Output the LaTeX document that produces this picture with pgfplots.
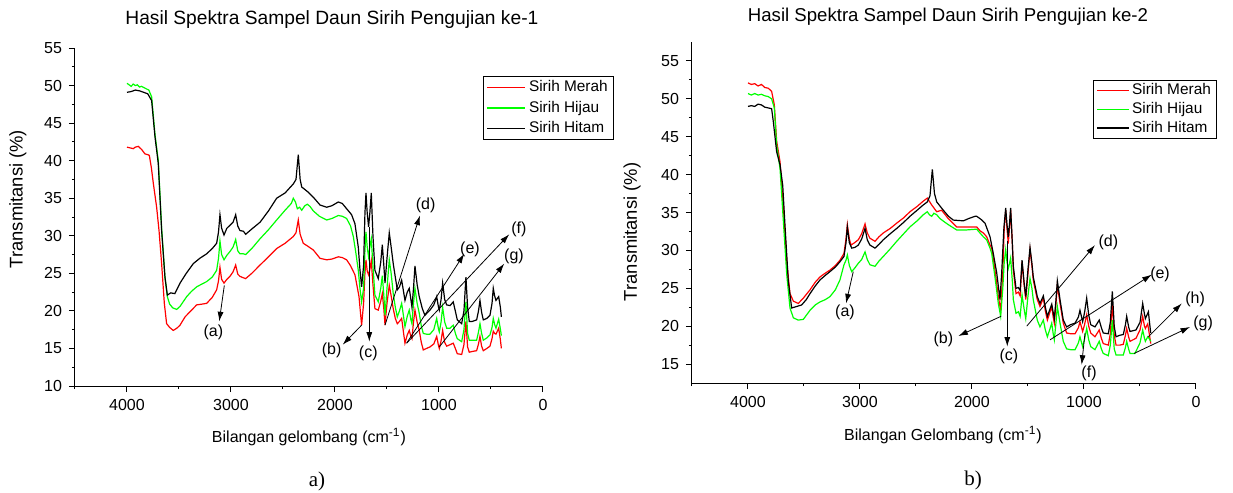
\documentclass[border=0pt]{standalone}
\usepackage{pgfplots}
\pgfplotsset{compat=1.18}
\usepackage{pgfplotstable}
\usepackage{fontspec}
\setmainfont{Liberation Sans}
\newfontfamily\timesfont{Liberation Serif}
\usetikzlibrary{arrows.meta}

% ---------- Pengujian ke-1 ----------
\pgfplotstableread{
x y
4000 41.8
3970 41.7
3940 41.6
3920 41.8
3891 41.9
3860 41.5
3827 40.9
3800 40.8
3785 40.7
3765 39.0
3747 37.0
3715 33.8
3692 30.7
3667 26.3
3641 21.0
3619 18.3
3590 17.8
3555 17.4
3520 17.7
3490 18.1
3442 19.2
3400 19.8
3330 20.8
3280 20.9
3234 21.0
3180 21.8
3138 22.8
3120 24.0
3106 25.8
3090 24.2
3067 23.7
3040 24.2
3010 24.6
2980 25.2
2955 26.1
2935 24.9
2914 24.6
2880 24.4
2859 24.3
2800 25.0
2721 26.1
2640 27.2
2561 28.3
2480 29.0
2401 29.9
2375 30.4
2353 32.1
2335 30.2
2305 29.0
2260 28.6
2208 28.1
2144 27.0
2080 26.8
2030 26.9
1968 27.2
1930 27.1
1888 26.8
1850 26.0
1808 24.8
1769 21.9
1744 18.1
1725 21.0
1712 25.0
1702 26.8
1690 25.3
1677 24.8
1665 25.5
1651 26.7
1635 23.5
1616 20.3
1584 20.1
1560 21.3
1545 22.3
1530 20.2
1519 18.1
1500 21.0
1478 23.4
1460 22.0
1440 20.3
1420 19.0
1401 18.3
1380 18.6
1359 19.0
1340 17.0
1327 15.7
1305 16.8
1286 17.4
1270 16.6
1260 16.3
1245 18.5
1231 20.1
1210 18.5
1190 17.4
1170 15.8
1151 14.8
1120 15.0
1087 15.2
1050 15.6
1022 16.6
1005 15.4
997 15.0
980 16.0
965 17.4
945 15.8
926 15.3
894 15.5
863 15.7
840 14.9
824 14.3
782 14.2
760 15.5
741 18.6
725 15.2
709 14.5
680 14.6
638 14.7
620 15.6
606 16.6
590 15.3
574 14.7
540 15.0
510 15.3
490 16.3
478 17.3
465 17.0
452 16.9
426 17.7
410 16.2
400 15.0
}\merahA

\pgfplotstableread{
x y
4000 50.3
3980 50.1
3960 49.9
3940 50.2
3920 50.0
3900 50.1
3880 49.8
3860 49.9
3820 49.6
3790 49.4
3763 48.5
3731 43.5
3699 40.0
3667 31.0
3635 24.5
3612 21.9
3590 20.9
3560 20.4
3522 20.2
3490 20.6
3426 21.9
3380 22.6
3330 23.2
3290 23.5
3234 23.9
3180 24.5
3138 25.4
3120 27.0
3106 29.3
3090 27.5
3067 26.8
3040 27.4
3010 27.9
2980 28.5
2955 29.5
2935 28.0
2914 27.6
2880 27.6
2859 27.5
2800 28.3
2721 29.6
2640 30.8
2561 32.1
2480 33.4
2420 34.3
2401 35.0
2380 34.5
2362 33.6
2340 33.8
2320 33.4
2290 34.0
2266 34.2
2240 33.9
2208 33.3
2150 32.6
2080 32.1
2030 32.3
1968 32.7
1930 32.6
1888 32.3
1850 31.3
1824 29.9
1800 27.8
1776 25.4
1760 23.0
1744 21.2
1725 23.0
1712 28.0
1702 30.5
1690 28.5
1677 27.2
1665 28.5
1651 29.6
1635 26.0
1616 22.1
1584 21.2
1560 23.0
1545 24.7
1530 22.0
1519 19.4
1500 23.0
1478 26.8
1460 25.0
1440 22.3
1420 20.5
1401 19.2
1380 20.0
1359 21.0
1340 19.2
1327 17.9
1305 19.3
1286 20.1
1270 18.8
1260 18.3
1245 21.0
1231 23.0
1210 21.0
1190 19.7
1170 18.0
1151 17.0
1120 16.9
1087 16.9
1050 17.5
1022 19.0
1005 17.6
997 17.2
980 18.5
965 20.5
945 18.5
926 17.7
894 17.7
863 18.1
840 16.9
824 16.3
782 15.9
760 17.5
741 21.2
725 17.0
709 16.1
680 16.1
638 16.1
620 17.2
606 18.3
590 17.0
574 16.1
540 16.4
510 16.8
490 17.8
478 19.0
465 18.2
452 17.7
426 18.9
410 17.6
400 16.7
}\hijauA

\pgfplotstableread{
x y
4000 49.1
3960 49.2
3920 49.4
3880 49.3
3840 49.1
3800 48.9
3763 48.0
3731 43.2
3699 39.6
3667 30.7
3635 24.5
3612 22.1
3580 22.4
3540 22.3
3490 23.7
3430 25.0
3362 26.3
3300 27.0
3234 27.6
3180 28.3
3138 29.0
3120 30.5
3106 32.8
3090 31.0
3067 30.1
3040 31.0
3010 31.4
2980 31.8
2955 32.8
2935 31.3
2914 30.7
2880 30.6
2859 30.2
2800 30.9
2721 31.8
2640 33.3
2561 35.0
2480 35.7
2401 36.9
2375 37.5
2353 40.8
2335 37.5
2320 36.5
2257 35.8
2200 35.0
2144 34.1
2080 33.8
2030 34.0
1968 34.5
1930 34.3
1888 33.6
1840 32.8
1808 31.6
1776 28.5
1760 25.5
1744 23.2
1725 26.0
1712 33.0
1702 35.7
1690 33.0
1677 31.2
1665 33.0
1651 35.7
1635 30.0
1616 25.4
1584 24.3
1560 26.5
1545 28.8
1530 26.0
1519 23.7
1500 27.0
1478 30.4
1460 28.5
1440 26.3
1420 24.5
1401 22.8
1380 23.2
1359 24.1
1340 22.5
1327 21.4
1305 22.5
1286 23.0
1270 21.5
1260 20.5
1245 23.0
1231 26.0
1210 23.5
1190 21.9
1160 20.3
1135 19.4
1110 19.8
1087 20.1
1050 20.8
1022 21.9
1005 20.5
997 20.1
980 21.5
965 23.7
945 21.5
926 20.8
894 20.7
863 21.2
840 19.8
824 18.8
782 18.3
760 20.0
741 24.5
725 20.5
709 18.6
680 18.6
638 18.8
620 20.0
606 21.4
590 19.8
574 18.8
540 19.0
510 19.4
490 21.0
478 23.0
465 22.0
452 21.4
426 21.9
410 20.5
400 19.2
}\hitamA

% ---------- Pengujian ke-2 ----------
\pgfplotstableread{
x y
4000 52.1
3970 51.9
3940 52.0
3910 51.7
3880 51.9
3850 51.5
3819 51.4
3789 51.0
3765 49.2
3744 44.4
3714 41.7
3684 35.6
3654 28.5
3625 24.3
3595 23.3
3551 23.0
3506 23.7
3446 24.8
3400 25.8
3357 26.5
3310 27.0
3268 27.4
3220 28.0
3179 28.7
3143 29.6
3125 31.5
3113 33.4
3095 31.5
3080 30.7
3050 31.0
3015 31.4
2985 32.2
2955 33.5
2935 32.3
2911 31.6
2866 31.2
2830 31.8
2792 32.3
2730 32.9
2672 33.6
2610 34.3
2554 35.1
2490 35.8
2435 36.5
2399 36.9
2360 36.0
2315 35.1
2271 35.3
2212 34.2
2137 33.1
2048 33.1
1958 33.1
1929 32.6
1899 32.3
1869 31.8
1839 30.7
1824 30.3
1795 27.4
1765 23.9
1744 22.1
1725 27.0
1712 33.0
1699 35.3
1688 33.0
1676 30.9
1665 33.0
1655 35.3
1640 31.0
1631 27.4
1607 24.3
1586 24.5
1570 24.0
1553 28.5
1535 25.5
1520 23.5
1500 27.0
1482 30.1
1465 28.0
1453 26.1
1417 23.5
1393 22.6
1363 23.7
1345 22.0
1327 20.8
1305 21.8
1288 22.6
1275 21.2
1265 20.4
1250 23.0
1238 25.4
1214 23.0
1185 20.4
1155 19.1
1120 19.0
1080 19.0
1050 19.8
1036 20.6
1012 19.3
995 20.2
976 21.5
958 20.0
940 19.1
902 18.6
864 19.5
845 18.4
828 17.7
783 17.5
765 19.0
747 23.0
730 18.8
714 17.5
680 17.5
649 17.6
630 18.8
619 19.7
600 18.5
589 18.0
536 18.4
500 19.5
476 21.3
460 20.0
452 19.7
431 20.3
415 18.8
404 17.7
}\merahB

\pgfplotstableread{
x y
4000 50.7
3970 50.5
3940 50.7
3910 50.5
3880 50.6
3850 50.4
3819 50.3
3789 50.0
3765 48.8
3744 43.9
3714 40.8
3684 33.8
3654 26.8
3625 22.4
3595 21.1
3551 20.8
3506 20.9
3446 22.1
3400 22.8
3357 23.2
3310 23.5
3268 23.9
3220 24.8
3179 26.1
3143 28.1
3125 28.7
3113 29.4
3095 28.0
3074 27.2
3045 27.7
3015 28.3
2985 28.8
2955 29.8
2935 28.8
2911 28.1
2866 27.9
2830 28.6
2792 29.2
2730 30.2
2672 31.2
2610 32.2
2554 33.1
2490 33.9
2435 34.7
2399 35.1
2380 34.7
2360 34.5
2340 34.9
2315 34.7
2286 34.2
2250 33.8
2212 33.4
2137 32.7
2048 32.7
1958 32.8
1929 32.3
1899 31.8
1869 31.4
1839 30.3
1824 29.6
1795 26.5
1765 23.0
1744 21.3
1725 25.0
1712 28.5
1699 30.1
1688 28.5
1676 27.6
1665 28.3
1655 29.0
1640 26.0
1631 23.5
1607 21.7
1586 21.9
1570 21.3
1553 24.1
1535 22.3
1520 21.0
1500 24.0
1482 26.3
1465 25.0
1453 23.5
1417 20.8
1393 19.9
1363 20.8
1345 19.5
1327 18.6
1305 19.6
1288 20.4
1275 19.0
1265 18.2
1250 20.5
1238 22.6
1214 20.4
1185 18.0
1155 17.0
1120 16.9
1080 16.9
1050 17.8
1036 18.6
1012 17.3
995 18.3
976 19.7
958 18.2
940 17.3
902 16.9
864 18.0
845 17.0
828 16.4
783 16.1
765 17.5
747 20.8
730 17.0
714 16.2
680 16.2
649 16.2
630 17.2
619 18.0
600 16.9
589 16.4
545 16.4
500 17.8
476 19.5
460 18.4
452 18.0
431 18.6
415 18.3
404 18.0
}\hijauB

\pgfplotstableread{
x y
4000 49.0
3970 49.1
3940 49.0
3910 49.3
3880 49.2
3850 48.9
3819 48.8
3789 48.7
3774 47.0
3744 43.0
3714 41.3
3690 38.6
3670 33.4
3640 25.9
3610 22.4
3565 22.6
3521 22.8
3480 23.5
3446 24.3
3400 25.3
3357 26.1
3310 26.7
3268 27.2
3220 27.8
3179 28.5
3143 29.2
3125 31.0
3113 33.1
3095 31.0
3074 30.3
3045 30.4
3015 30.7
2985 31.5
2955 32.9
2935 31.4
2911 30.7
2866 30.3
2830 30.8
2792 31.4
2730 32.2
2672 32.9
2610 33.7
2554 34.5
2490 35.3
2435 36.0
2399 36.4
2375 37.2
2354 40.7
2335 37.5
2315 36.4
2256 35.3
2210 34.5
2167 34.0
2077 33.9
2030 34.2
1973 34.5
1958 34.5
1920 34.1
1884 33.6
1839 31.8
1810 29.6
1779 27.0
1750 23.5
1735 27.0
1715 33.0
1699 35.6
1688 33.5
1676 31.8
1665 33.5
1655 35.6
1640 31.0
1631 27.9
1607 25.0
1586 25.1
1570 24.7
1553 28.7
1535 25.8
1520 23.9
1500 27.5
1482 30.4
1465 28.3
1453 26.5
1417 23.9
1393 23.0
1363 24.0
1345 22.5
1327 21.3
1305 22.2
1288 22.9
1275 21.8
1265 21.0
1250 23.5
1238 26.0
1214 23.5
1185 20.8
1155 19.9
1120 20.2
1080 20.4
1050 21.2
1036 22.1
1012 20.6
995 21.8
976 23.7
958 21.5
940 20.2
902 19.9
864 20.8
845 19.8
828 19.1
783 19.0
765 20.5
747 24.6
730 20.0
714 18.6
680 18.8
649 18.9
630 20.2
619 21.3
600 19.8
589 19.3
536 19.5
500 20.5
476 23.0
460 21.6
452 21.0
425 21.9
415 20.5
404 19.1
}\hitamB

\pgfplotsset{
  ftir/.style={
    scale only axis,
    x dir=reverse,
    xmin=0, xmax=4500,
    xtick={0,1000,2000,3000,4000},
    minor xtick={500,1500,2500,3500,4500},
    minor y tick num=1,
    scaled x ticks=false,
    axis x line*=bottom,
    axis y line*=left,
    tick align=outside,
    major tick length=3pt,
    minor tick length=1.6pt,
    every tick/.style={black, line width=0.5pt},
    axis line style={line width=0.5pt},
    tick label style={font=\fontsize{8}{9}\selectfont},
    /pgf/number format/assume math mode=true,
    /pgf/number format/1000 sep={},
    xlabel style={font=\fontsize{8}{9}\selectfont},
    ylabel style={font=\fontsize{9.2}{10}\selectfont},
    clip=false,
    legend cell align=left,
    legend style={draw=black, line width=0.5pt, font=\fontsize{7.7}{9}\selectfont,
      inner xsep=1.5pt, inner ysep=0.6pt, row sep=0pt,
      nodes={inner sep=1.5pt, text depth=0.15em}},
  },
}
\tikzset{
  ann/.style={-{Latex[length=4.8pt,width=3pt]}, line width=0.4pt, black},
  annlab/.style={font=\fontsize{8}{9}\selectfont},
}

\begin{document}
\begin{tikzpicture}
\useasboundingbox (0pt,0pt) rectangle (616.5pt,246.5pt);

% ---------- panel a ----------
\begin{axis}[ftir,
  at={(37.5pt,53.5pt)}, anchor=south west,
  width=234pt, height=169pt,
  ymin=10, ymax=55,
  ytick={10,15,...,55},
  xlabel={Bilangan gelombang (cm\textsuperscript{-1})},
  ylabel={Transmitansi (\%)},
  xlabel style={at={(axis description cs:0.5,-0.151)}, anchor=center},
  ylabel style={at={(axis description cs:-0.122,0.553)}, anchor=center, rotate=0},
  legend image post style={xscale=1.12},
  legend style={at={(0.872,0.917)}, anchor=north west},
]
\addplot[red, line width=0.6pt] table {\merahA};
\addlegendentry{Sirih Merah}
\addplot[green, line width=0.6pt] table {\hijauA};
\addlegendentry{Sirih Hijau}
\addplot[black, line width=0.6pt] table {\hitamA};
\addlegendentry{Sirih Hitam}

\node[font=\fontsize{9.6}{11}\selectfont] at (axis description cs:0.549,1.083)
  {Hasil Spektra Sampel Daun Sirih Pengujian ke-1};
\node[font=\timesfont\fontsize{10.5}{12}\selectfont] at (axis description cs:0.517,-0.281) {a)};

\draw[ann] (axis cs:3064,23.4) -- (axis cs:3113,18.6);
\node[annlab] at (axis cs:3170,17.1) {(a)};
\draw[ann] (axis cs:1744,18.1) -- (axis cs:1926,15.5);
\node[annlab] at (axis cs:2032,14.7) {(b)};
\draw[ann] (axis cs:1670,31.2) -- (axis cs:1670,15.9);
\node[annlab] at (axis cs:1680,14.4) {(c)};
\draw[ann] (axis cs:1519,18.1) -- (axis cs:1183,32.7);
\node[annlab] at (axis cs:1128,34.0) {(d)};
\draw[ann] (axis cs:1311,15.7) -- (axis cs:757,27.6);
\node[annlab] at (axis cs:702,28.2) {(e)};
\draw[ann] (axis cs:1311,15.7) -- (axis cs:324,30.2);
\node[annlab] at (axis cs:231,30.9) {(f)};
\draw[ann] (axis cs:997,15.2) -- (axis cs:372,26.3);
\node[annlab] at (axis cs:279,27.2) {(g)};
\end{axis}

% ---------- panel b ----------
\begin{axis}[ftir,
  at={(346pt,55pt)}, anchor=south west,
  width=252pt, height=170.5pt,
  ymin=12.5, ymax=57.5,
  ytick={15,20,...,55},
  xlabel={Bilangan Gelombang (cm\textsuperscript{-1})},
  ylabel={Transmitansi (\%)},
  xlabel style={at={(axis description cs:0.498,-0.152)}, anchor=center},
  ylabel style={at={(axis description cs:-0.119,0.443)}, anchor=center, rotate=0},
  legend image post style={xscale=0.94},
  legend style={at={(0.796,0.889)}, anchor=north west,
    nodes={inner sep=1.1pt, text depth=0.15em}},
]
\addplot[red, line width=0.6pt] table {\merahB};
\addlegendentry{Sirih Merah}
\addplot[green, line width=0.6pt] table {\hijauB};
\addlegendentry{Sirih Hijau}
\addplot[black, line width=0.6pt] table {\hitamB};
\addlegendentry{Sirih Hitam}

\node[font=\fontsize{9.3}{11}\selectfont] at (axis description cs:0.508,1.073)
  {Hasil Spektra Sampel Daun Sirih Pengujian ke-2};
\node[font=\timesfont\fontsize{10.5}{12}\selectfont] at (axis description cs:0.558,-0.287) {b)};

\draw[ann] (axis cs:3060,27.2) -- (axis cs:3125,23.0);
\node[annlab] at (axis cs:3134,21.8) {(a)};
\draw[ann] (axis cs:1741,21.3) -- (axis cs:2122,18.7);
\node[annlab] at (axis cs:2256,18.3) {(b)};
\draw[ann] (axis cs:1685,31.3) -- (axis cs:1685,17.3);
\node[annlab] at (axis cs:1670,16.0) {(c)};
\draw[ann] (axis cs:1511,20.0) -- (axis cs:902,30.7);
\node[annlab] at (axis cs:783,31.1) {(d)};
\draw[ann] (axis cs:1303,18.2) -- (axis cs:395,26.8);
\node[annlab] at (axis cs:321,26.9) {(e)};
\draw[ann] (axis cs:991,19.1) -- (axis cs:1021,14.9);
\node[annlab] at (axis cs:955,13.8) {(f)};
\draw[ann] (axis cs:426,18.6) -- (axis cs:127,23.0);
\node[annlab] at (axis cs:8,23.5) {(h)};
\draw[ann] (axis cs:553,16.4) -- (axis cs:53,19.9);
\node[annlab] at (axis cs:-63,20.4) {(g)};
\end{axis}
\end{tikzpicture}
\end{document}
